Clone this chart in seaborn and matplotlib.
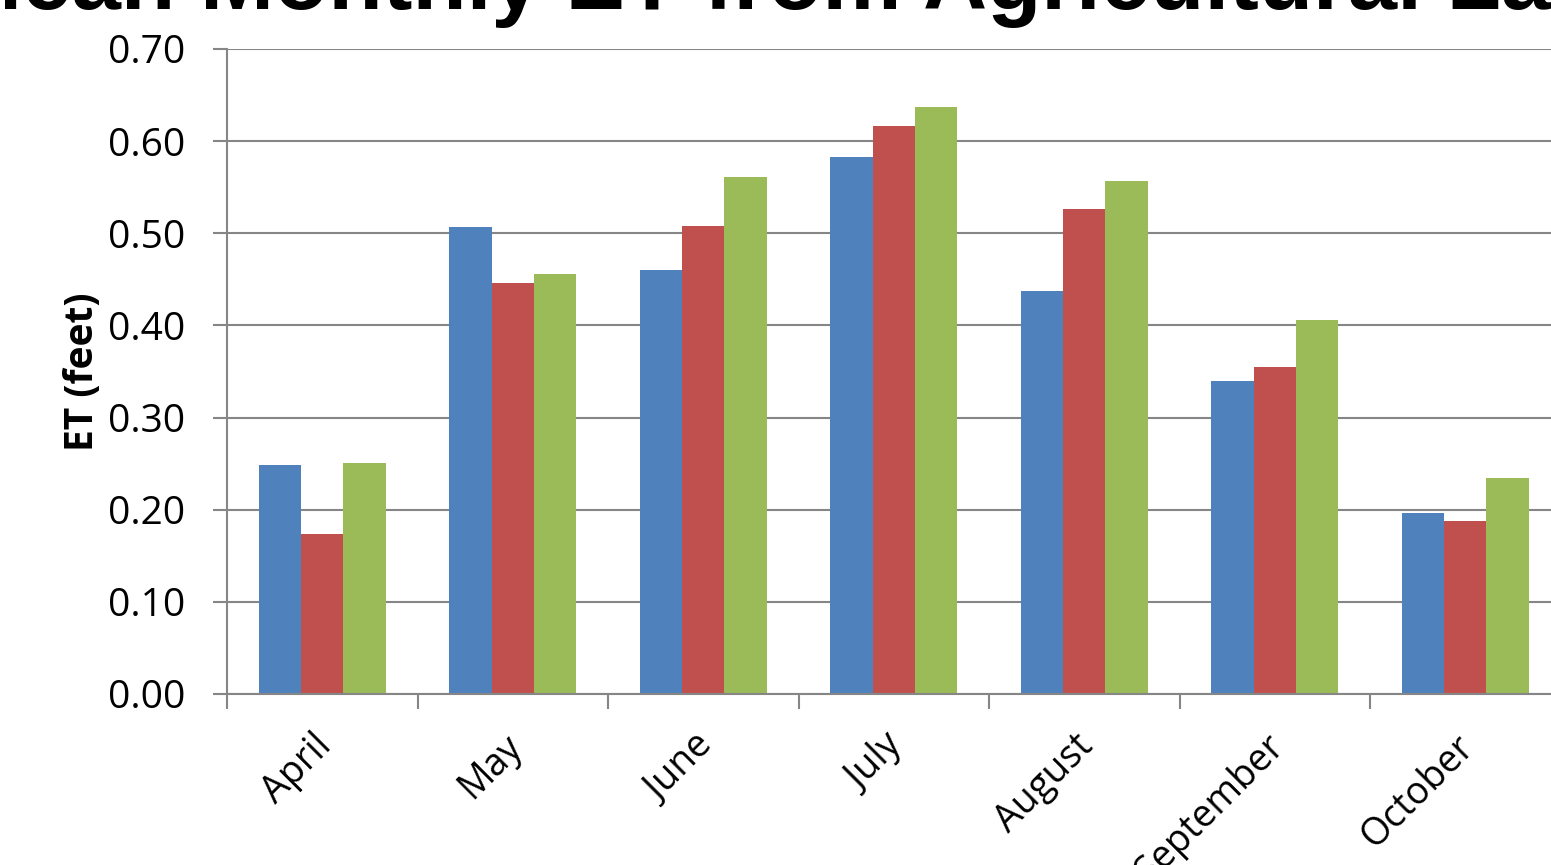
import pandas as pd
import seaborn as sns
import matplotlib.pyplot as plt
import matplotlib.transforms as mtransforms
from matplotlib.ticker import MultipleLocator, FixedLocator

# Valeurs (ET en pieds)
months = ['April', 'May', 'June', 'July', 'August', 'September', 'October']
series_names = ['Series 1', 'Series 2', 'Series 3']
series_1 = [0.249, 0.507, 0.460, 0.583, 0.437, 0.340, 0.196]
series_2 = [0.174, 0.446, 0.508, 0.616, 0.526, 0.355, 0.188]
series_3 = [0.251, 0.456, 0.561, 0.637, 0.557, 0.406, 0.234]
colors = ['#4F81BD', '#C0504D', '#9BBB59']

data = pd.DataFrame({'Month': months, series_names[0]: series_1,
                     series_names[1]: series_2, series_names[2]: series_3})
data_melted = pd.melt(data, id_vars=['Month'], value_vars=series_names,
                      var_name='Series', value_name='ET')

sns.set_style('white')
plt.rcParams['font.family'] = ['Open Sans', 'DejaVu Sans']
plt.rcParams['text.color'] = 'black'
plt.rcParams['xtick.labelcolor'] = 'black'
plt.rcParams['ytick.labelcolor'] = 'black'
plt.rcParams['axes.labelcolor'] = 'black'

fig = plt.figure(figsize=(15.51, 8.65), dpi=100)
ax = fig.add_axes([227 / 1551, 171 / 865, 1333.5 / 1551, 645 / 865])

sns.barplot(data=data_melted, x='Month', y='ET', hue='Series', order=months,
            hue_order=series_names, palette=colors, width=0.667, gap=0,
            saturation=1, legend=False, ax=ax, edgecolor='none')

grid_col = '#868686'
ax.set_ylim(0, 0.70)
ax.set_xlim(-0.5, len(months) - 0.5)
ax.yaxis.set_major_locator(MultipleLocator(0.1))
ax.yaxis.set_major_formatter(lambda v, p: f'{v:.2f}')
ax.grid(axis='y', color=grid_col, linewidth=1.5)
ax.set_axisbelow(True)

# ticks aux limites des catégories
ax.xaxis.set_minor_locator(FixedLocator([i - 0.5 for i in range(len(months) + 1)]))
ax.tick_params(axis='x', which='major', length=0, pad=24, labelsize=27)
ax.tick_params(axis='x', which='minor', length=11, width=1.5, color=grid_col, direction='out')
ax.tick_params(axis='y', length=10, width=1.5, color=grid_col, direction='out', labelsize=28, pad=20)
ax.tick_params(bottom=True, left=True, which='both')
shift = mtransforms.ScaledTranslation(-10 / 100, 0, fig.dpi_scale_trans)
for lab in ax.get_xticklabels():
    lab.set_rotation(45)
    lab.set_ha('right')
    lab.set_rotation_mode('anchor')
    lab.set_transform(lab.get_transform() + shift)

for s in ['top', 'right']:
    ax.spines[s].set_visible(False)
for s in ['left', 'bottom']:
    ax.spines[s].set_color(grid_col)
    ax.spines[s].set_linewidth(1.5)

ax.set_xlabel('')
ax.set_ylabel('ET (feet)', fontsize=28, fontweight='bold', labelpad=4)

# titre coupé en haut comme dans l'original
fig.text(-52 / 1551, 1 - 9 / 865, 'Mean Monthly ET from Agricultural Land',
         fontsize=64, fontweight='bold', ha='left', va='baseline',
         family=['Liberation Sans', 'DejaVu Sans'])

fig.savefig('out.png', dpi=100)
